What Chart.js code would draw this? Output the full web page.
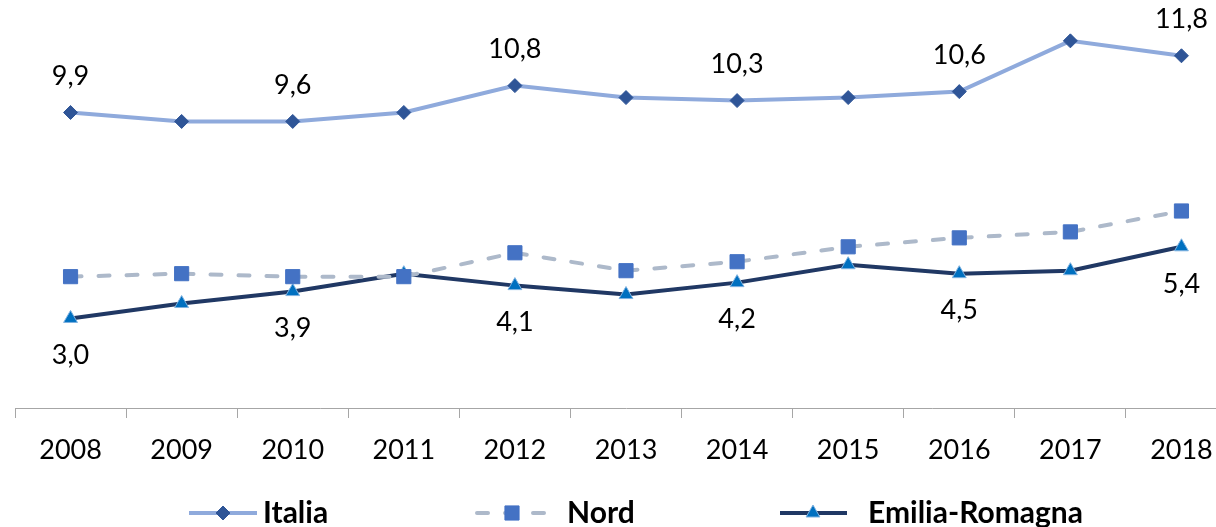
<!DOCTYPE html>
<html>
<head>
<meta charset="utf-8">
<script src="https://cdn.jsdelivr.net/npm/chart.js@4.4.1/dist/chart.umd.min.js"></script>
<style>
  html, body { margin: 0; padding: 0; overflow: hidden; background: #fff; width: 1216px; height: 527px; }
  #wrap { position: absolute; left: 0; top: 0; width: 1248px; height: 527px; }
</style>
</head>
<body>
<div id="wrap"><canvas id="c" width="1248" height="527"></canvas></div>
<script>
const years = ['2008','2009','2010','2011','2012','2013','2014','2015','2016','2017','2018'];
const italia = [9.9, 9.6, 9.6, 9.9, 10.8, 10.4, 10.3, 10.4, 10.6, 12.3, 11.8];
const nord = [4.4, 4.5, 4.4, 4.4, 5.2, 4.6, 4.9, 5.4, 5.7, 5.9, 6.6];
const emilia = [3.0, 3.5, 3.9, 4.5, 4.1, 3.8, 4.2, 4.8, 4.5, 4.6, 5.4];
const labelledIdx = [0, 2, 4, 6, 8, 10];

const FONT = 'Lato, "Open Sans", sans-serif';

const dataLabels = {
  id: 'dataLabels',
  afterDatasetsDraw(chart) {
    const ctx = chart.ctx;
    ctx.save();
    ctx.font = '27px ' + FONT;
    ctx.fillStyle = '#000';
    ctx.textAlign = 'center';
    ctx.textBaseline = 'middle';
    chart.data.datasets.forEach((ds, i) => {
      if (!ds.labelPos) return;
      const meta = chart.getDatasetMeta(i);
      labelledIdx.forEach(j => {
        const p = meta.data[j];
        const txt = ds.data[j].toFixed(1).replace('.', ',');
        const dy = ds.labelPos === 'above' ? -36 : 37;
        ctx.fillText(txt, p.x, p.y + dy);
      });
    });
    ctx.restore();
  }
};

function drawMarker(ctx, style, x, y, r, fill, stroke) {
  ctx.save();
  ctx.fillStyle = fill; ctx.strokeStyle = stroke; ctx.lineWidth = 1;
  ctx.beginPath();
  if (style === 'rectRot') {
    ctx.moveTo(x - r, y); ctx.lineTo(x, y - r); ctx.lineTo(x + r, y); ctx.lineTo(x, y + r);
  } else if (style === 'rect') {
    const s = r * Math.SQRT1_2;
    ctx.rect(x - s, y - s, 2 * s, 2 * s);
  } else if (style === 'triangle') {
    ctx.moveTo(x, y - r);
    ctx.lineTo(x + Math.sin(2 * Math.PI / 3) * r, y - Math.cos(2 * Math.PI / 3) * r);
    ctx.lineTo(x + Math.sin(4 * Math.PI / 3) * r, y - Math.cos(4 * Math.PI / 3) * r);
  }
  ctx.closePath();
  ctx.fill(); ctx.stroke();
  ctx.restore();
}

const customLegend = {
  id: 'customLegend',
  afterDraw(chart) {
    const ctx = chart.ctx;
    const y = 513;
    const items = [
      { ds: 0, x0: 189, x1: 257, mx: 223, tx: 263 },
      { ds: 1, x0: 477, x1: 547, mx: 512, tx: 567 },
      { ds: 2, x0: 780, x1: 847, mx: 813, tx: 868 }
    ];
    items.forEach(it => {
      const ds = chart.data.datasets[it.ds];
      ctx.save();
      ctx.strokeStyle = ds.borderColor;
      ctx.lineWidth = ds.borderWidth;
      ctx.lineCap = ds.borderDash ? 'round' : 'butt';
      if (ds.borderDash) ctx.setLineDash(ds.borderDash);
      ctx.beginPath();
      ctx.moveTo(it.x0, y); ctx.lineTo(it.x1, y);
      ctx.stroke();
      ctx.restore();
      drawMarker(ctx, ds.pointStyle, it.mx, y, ds.pointRadius, ds.pointBackgroundColor, ds.pointBorderColor);
      ctx.save();
      ctx.font = 'bold 30px ' + FONT;
      ctx.fillStyle = '#000';
      ctx.textAlign = 'left';
      ctx.textBaseline = 'middle';
      ctx.fillText(ds.label, it.tx, y);
      ctx.restore();
    });
  }
};

new Chart(document.getElementById('c'), {
  type: 'line',
  data: {
    labels: years,
    datasets: [
      {
        label: 'Italia', data: italia, labelPos: 'above',
        borderColor: '#8FAADC', borderWidth: 4,
        pointStyle: 'rectRot', pointRadius: 7,
        pointBackgroundColor: '#2F5597', pointBorderColor: '#2F5597', pointBorderWidth: 1
      },
      {
        label: 'Nord', data: nord,
        borderColor: '#ADB9CA', borderWidth: 4, borderDash: [11, 17], borderCapStyle: 'round',
        pointStyle: 'rect', pointRadius: 10,
        pointBackgroundColor: '#4472C4', pointBorderColor: '#4472C4', pointBorderWidth: 1
      },
      {
        label: 'Emilia-Romagna', data: emilia, labelPos: 'below',
        borderColor: '#203864', borderWidth: 4,
        pointStyle: 'triangle', pointRadius: 8,
        pointBackgroundColor: '#0070C0', pointBorderColor: '#7FB2E0', pointBorderWidth: 1
      }
    ]
  },
  options: {
    responsive: false,
    animation: false,
    devicePixelRatio: 1,
    layout: { padding: { left: 15, right: 4, top: 3, bottom: 59 } },
    plugins: { legend: { display: false }, tooltip: { enabled: false } },
    elements: { line: { tension: 0 } },
    scales: {
      x: {
        offset: true,
        grid: { display: true, offset: true, drawOnChartArea: false, drawTicks: true, tickLength: 10, color: '#A6A6A6', lineWidth: 1 },
        border: { display: true, color: '#A6A6A6', width: 1 },
        ticks: { color: '#000', font: { family: FONT, size: 27 }, padding: 16, maxRotation: 0, autoSkip: false },
        afterFit(scale) { scale.height = 60; }
      },
      y: {
        display: false,
        min: 0, max: 13.3
      }
    }
  },
  plugins: [dataLabels, customLegend]
});
</script>
</body>
</html>
